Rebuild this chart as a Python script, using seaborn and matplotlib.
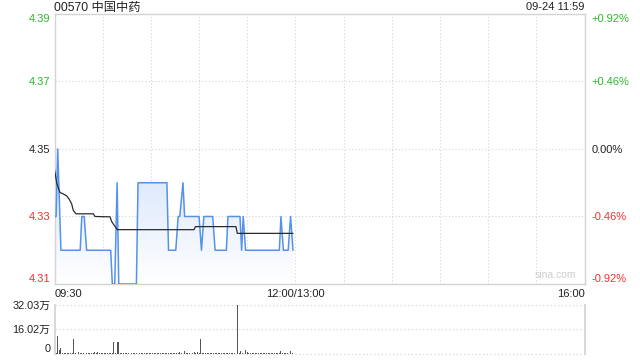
import numpy as np
import pandas as pd
import matplotlib
matplotlib.use("Agg")
import matplotlib.pyplot as plt
from matplotlib.colors import LinearSegmentedColormap
import seaborn as sns

# ---------------- data ----------------
title_text = "00570 中国中药"
stamp_text = "09-24 11:59"
prev_close = 4.35

price_minutes = [0, 1, 2, 4, 16, 17, 18.5, 20, 35, 36, 37.5, 39, 40, 51, 52, 70, 71, 75.5, 77, 78,
                 80, 81, 90, 91.5, 93, 98.5, 100, 107, 108, 115.5, 116.5, 117.5, 119, 140, 141,
                 142.5, 145.5, 147, 148.5]
price_values = [4.33, 4.33, 4.35, 4.32, 4.32, 4.33, 4.33, 4.32, 4.32, 4.31, 4.31, 4.34, 4.31, 4.31,
                4.34, 4.34, 4.32, 4.32, 4.33, 4.33, 4.34, 4.33, 4.33, 4.32, 4.33, 4.33, 4.32, 4.32,
                4.33, 4.33, 4.32, 4.33, 4.32, 4.32, 4.33, 4.32, 4.32, 4.33, 4.32]

avg_minutes = [0, 1.4, 3.4, 5.5, 7.6, 9.2, 10.7, 11.7, 13.4, 24.2, 25.2, 34.6, 35.6, 37, 39.1,
               86.9, 87.7, 113.0, 113.8, 148.5]
avg_values = [4.3439, 4.3399, 4.3371, 4.3367, 4.3361, 4.3351, 4.3337, 4.3318, 4.3308, 4.3308,
              4.3300, 4.3299, 4.3285, 4.3275, 4.3261, 4.3261, 4.3270, 4.3270, 4.3250, 4.3250]

# volume per minute, unit: 万
volume = [4.3, 0.8, 11.4, 2.8, 3.9, 0.6, 0.5, 0.4, 0.5, 0.6,
          0.4, 0.5, 9.9, 0.6, 0.5, 1.1, 0.6, 0.5, 0.4, 0.5,
          0.6, 0.4, 0.5, 0.4, 0.6, 1.1, 0.5, 1.1, 0.4, 0.5,
          0.6, 0.4, 0.5, 0.6, 0.4, 0.5, 0.6, 8.0, 0.5, 7.5,
          8.0, 0.6, 0.5, 0.4, 0.5, 0.6, 0.4, 0.5, 0.6, 0.4,
          0.5, 0.6, 0.4, 0.5, 0.6, 0.4, 0.5, 0.4, 0.6, 0.5,
          0.4, 0.5, 0.6, 0.4, 0.5, 0.6, 0.4, 0.5, 0.6, 0.4,
          0.5, 0.6, 0.6, 0.5, 0.7, 0.6, 0.5, 0.6, 1.3, 0.5,
          0.6, 2.1, 0.8, 0.7, 0.9, 0.8, 0.7, 1.1, 0.6, 1.1,
          0.5, 9.9, 0.5, 0.6, 0.4, 0.5, 0.6, 0.4, 0.5, 0.6,
          0.5, 0.4, 0.5, 0.6, 0.4, 0.5, 0.6, 0.4, 0.5, 0.6,
          0.4, 0.5, 0.6, 0.8, 32.03, 0.6, 2.1, 0.7, 6.9, 2.8,
          1.1, 0.6, 0.5, 0.4, 0.5, 0.6, 0.4, 0.5, 0.6, 0.4,
          0.5, 0.6, 0.4, 0.5, 0.6, 0.4, 0.5, 0.6, 0.4, 0.5,
          0.6, 2.1, 0.9, 0.5, 0.4, 0.6, 0.5, 2.1, 0.5]

price_ticks = [4.31, 4.33, 4.35, 4.37, 4.39]
x_tick_pos = [0, 30, 60, 90, 120, 150, 180, 210, 240, 270, 300, 330]
x_tick_labels = ["09:30", "", "", "", "", "12:00/13:00", "", "", "", "", "", "16:00"]
vol_ticks = [0, 16.02, 32.03]
vol_tick_labels = ["0", "16.02万", "32.03万"]

# ---------------- style ----------------
sns.set_theme(style="white")
plt.rcParams["font.family"] = ["Liberation Sans", "Noto Sans CJK SC", "DejaVu Sans"]

GREEN = "#2db82d"
RED = "#f23030"
DARK = "#222222"
GRID = "#d6d6d6"
SPINE = "#d4d4d4"
BLUE = "#5592ea"
DOT = (0, (1, 2))

W, H = 640, 360
fig = plt.figure(figsize=(6.4, 3.6), dpi=100)
L, R = 54.5 / W, 584.5 / W
ax = fig.add_axes([L, (H - 284) / H, R - L, (284 - 14) / H])
axv = fig.add_axes([L, (H - 354) / H, R - L, (354 - 304.5) / H])

# ---------------- price panel ----------------
dfp = pd.DataFrame({"m": price_minutes, "p": price_values})
dfa = pd.DataFrame({"m": avg_minutes, "p": avg_values})

poly = ax.fill_between(dfp["m"], dfp["p"], 4.31, color="none", lw=0)
cmap = LinearSegmentedColormap.from_list("g", ["#ffffff", "#dfeafc"])
grad = np.linspace(0, 1, 256).reshape(-1, 1)
im = ax.imshow(grad, extent=[0, 330, 4.31, 4.34], origin="lower", aspect="auto",
               cmap=cmap, zorder=1)
im.set_clip_path(poly.get_paths()[0], transform=ax.transData)

sns.lineplot(data=dfp, x="m", y="p", ax=ax, color=BLUE, lw=1.1, zorder=3)
sns.lineplot(data=dfa, x="m", y="p", ax=ax, color="#2b2b2b", lw=0.9, zorder=4)

ax.set_xlim(0, 330)
ax.set_ylim(4.31, 4.39)
ax.set_xlabel("")
ax.set_ylabel("")
ax.set_xticks(x_tick_pos)
ax.set_xticklabels(x_tick_labels, fontsize=8, color=DARK)
xl = ax.get_xticklabels()
xl[0].set_ha("left")
xl[-1].set_ha("right")
ax.set_yticks(price_ticks)
ax.set_yticklabels([f"{v:.2f}" for v in price_ticks], fontsize=8)
ax.tick_params(axis="both", length=0, pad=3)
ax.tick_params(axis="x", pad=3.5)
colors = [RED, RED, DARK, GREEN, GREEN]
for lab, c in zip(ax.get_yticklabels(), colors):
    lab.set_color(c)
ax.get_yticklabels()[0].set_va("bottom")
ax.get_yticklabels()[-1].set_va("top")
ax.grid(True, color=GRID, ls=DOT, lw=0.8)
for s in ax.spines.values():
    s.set_color(SPINE)
    s.set_linewidth(1.0)

axr = ax.twinx()
axr.set_ylim(4.31, 4.39)
axr.set_yticks(price_ticks)
pct = [(v - prev_close) / prev_close * 100 for v in price_ticks]
axr.set_yticklabels([("+" if p > 0.001 else "") + f"{p:.2f}%" for p in pct], fontsize=8)
for lab, c in zip(axr.get_yticklabels(), colors):
    lab.set_color(c)
axr.get_yticklabels()[0].set_va("bottom")
axr.get_yticklabels()[-1].set_va("top")
axr.tick_params(axis="y", length=0, pad=5)
axr.grid(False)
for s in axr.spines.values():
    s.set_visible(False)

fig.text(L, (H - 7.5) / H, title_text, ha="left", va="center",
         fontsize=8.8, color=DARK)
fig.text(R, (H - 7.5) / H, stamp_text, ha="right", va="center",
         fontsize=8, color=DARK)
ax.text(0.985, 0.015, "sina.com", transform=ax.transAxes, ha="right", va="bottom",
        fontsize=7.5, color="#cccccc", zorder=2)

# ---------------- volume panel ----------------
dfv = pd.DataFrame({"m": np.arange(len(volume)), "v": volume})
sns.barplot(data=dfv, x="m", y="v", ax=axv, native_scale=True, color="#555555",
            width=0.6, errorbar=None, saturation=1, linewidth=0)
axv.set_xlim(0, 330)
axv.set_ylim(0, 32.03)
axv.set_xlabel("")
axv.set_ylabel("")
axv.set_xticks([])
axv.set_yticks(vol_ticks)
axv.set_yticklabels(vol_tick_labels, fontsize=7.8, color=DARK)
axv.get_yticklabels()[0].set_va("bottom")
axv.tick_params(axis="y", length=0, pad=3)
axv.grid(False)
for yv in vol_ticks:
    axv.axhline(yv, color=GRID, ls=DOT, lw=0.9, zorder=0, clip_on=False)
axv.spines["top"].set_visible(False)
axv.spines["bottom"].set_visible(False)
axv.spines["left"].set_color(SPINE)
axv.spines["right"].set_color(SPINE)

fig.savefig("out.png", dpi=100, facecolor="white")
